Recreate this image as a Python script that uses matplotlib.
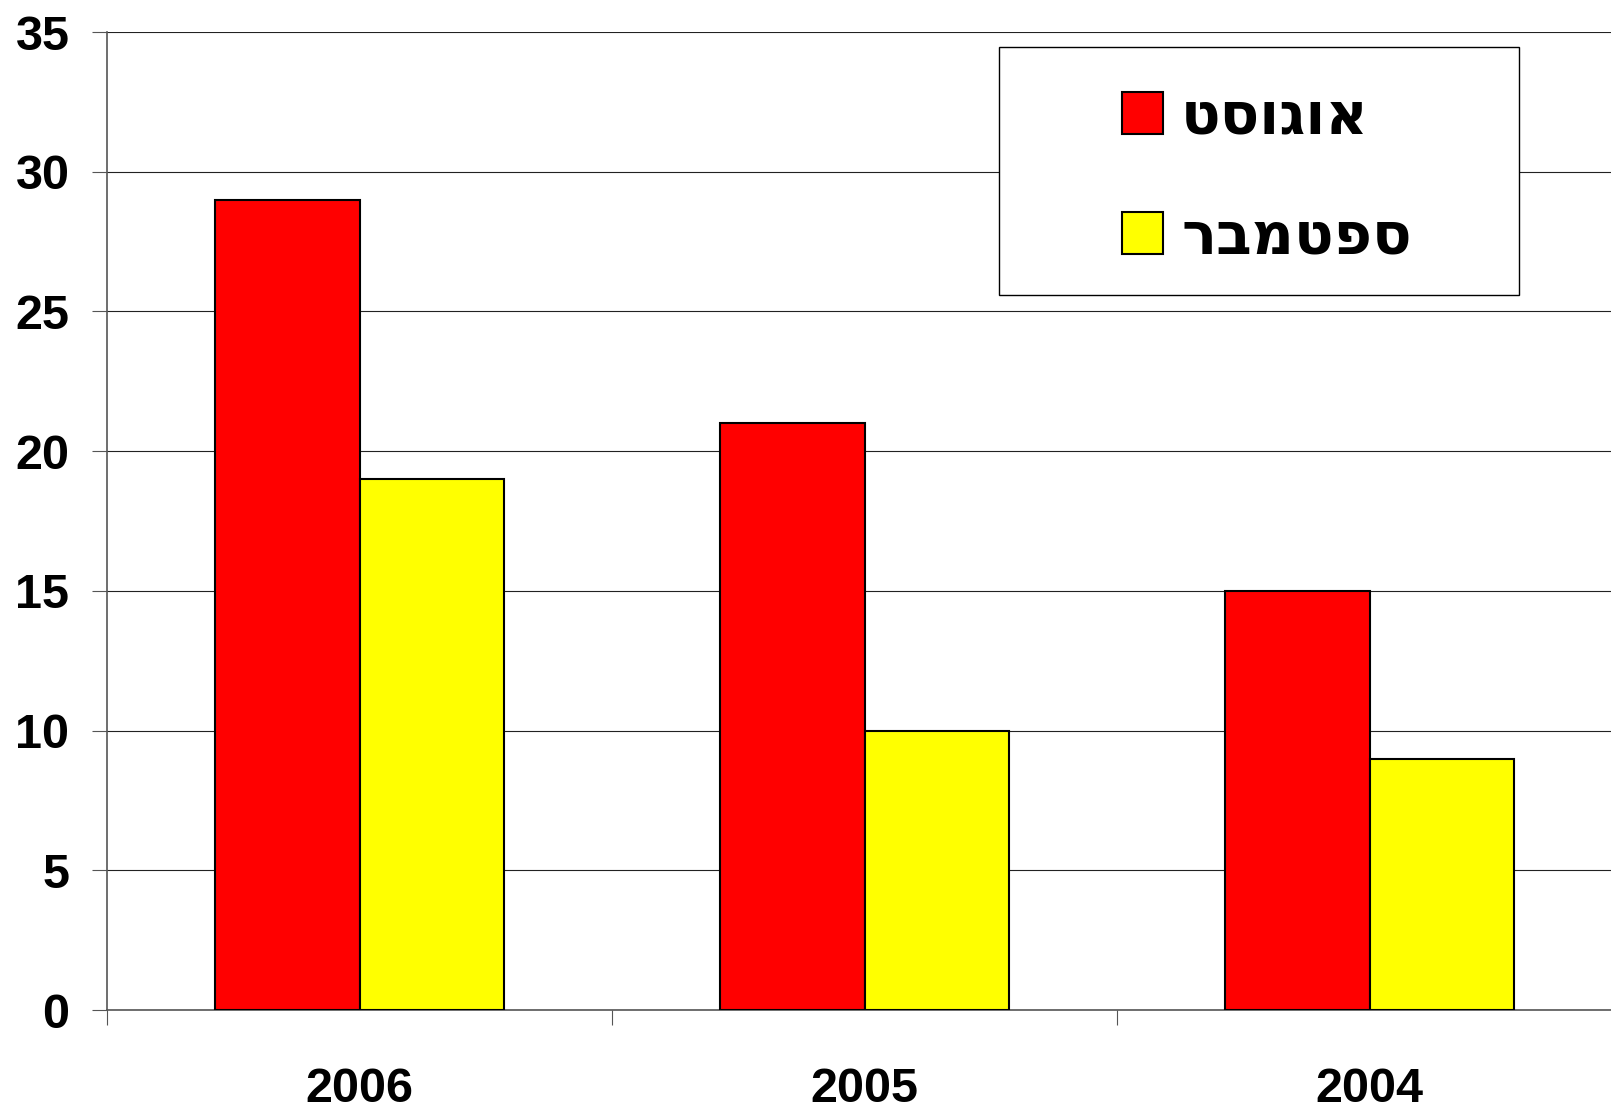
import matplotlib.pyplot as plt
from matplotlib.patches import Rectangle
import numpy as np

years = ['2006', '2005', '2004']
august = [29, 21, 15]
september = [19, 10, 9]
series_names = ['אוגוסט', 'ספטמבר']   # August, September
y_ticks = [0, 5, 10, 15, 20, 25, 30, 35]

W, H = 1611, 1109
fontSize = 35
legSize = 42
fams = ['Liberation Sans', 'DejaVu Sans']

fig = plt.figure(figsize=(W / 100, H / 100), dpi=100)
# plot area runs past the right edge of the picture, like the original
ax = fig.add_axes([107 / W, 1 - 1010 / H, 1515 / W, 978 / H])

x = np.arange(len(years))
barW = 0.286
# matplotlib has no bidi, so Hebrew labels are given in visual order
b1 = ax.bar(x - barW / 2, august, barW, color='#ff0000', edgecolor='black',
            linewidth=1.5, label=series_names[0][::-1], zorder=3)
b2 = ax.bar(x + barW / 2, september, barW, color='#ffff00', edgecolor='black',
            linewidth=1.5, label=series_names[1][::-1], zorder=3)

ax.set_xlim(-0.5, len(years) - 0.5)
ax.set_ylim(0, 35)
ax.set_yticks(y_ticks)
ax.set_yticklabels([str(v) for v in y_ticks])
ax.set_xticks(x - 0.5, minor=False)
ax.set_xticklabels([''] * len(years))
ax.set_xticks(x, minor=True)
ax.set_xticklabels(years, minor=True)

ax.tick_params(axis='y', which='major', length=11, width=0.8, color='#555555',
               pad=16, labelsize=fontSize)
ax.tick_params(axis='x', which='major', length=11, width=0.8, color='#555555')
ax.tick_params(axis='x', which='minor', length=0, pad=41, labelsize=fontSize)
for lab in ax.get_yticklabels() + ax.get_xticklabels(minor=True):
    lab.set_fontweight('bold')
    lab.set_family(fams)

ax.yaxis.grid(True, color='#222222', linewidth=0.8, zorder=0)
ax.set_axisbelow(True)
for s in ['top', 'right']:
    ax.spines[s].set_visible(False)
for s in ['left', 'bottom']:
    ax.spines[s].set_color('#555555')
    ax.spines[s].set_linewidth(1.2)

# legend frame drawn by hand, legend entries placed inside it
fig.patches.append(Rectangle((999 / W, 1 - 295 / H), 520 / W, 248 / H,
                             transform=fig.transFigure, facecolor='white',
                             edgecolor='black', linewidth=1.0, zorder=5))
em = legSize * 100 / 72
leg = fig.legend(handles=[b1, b2], loc='upper left',
                 bbox_to_anchor=(1122 / W, 1 - 88 / H),
                 frameon=False, borderpad=0, borderaxespad=0,
                 handlelength=41 / em, handleheight=(42 / em - 0.245) / 0.65,
                 handletextpad=18 / em, labelspacing=1.09,
                 prop={'family': 'DejaVu Sans', 'weight': 'bold',
                       'size': legSize})
leg.set_zorder(6)

fig.savefig('out.png', dpi=100)
